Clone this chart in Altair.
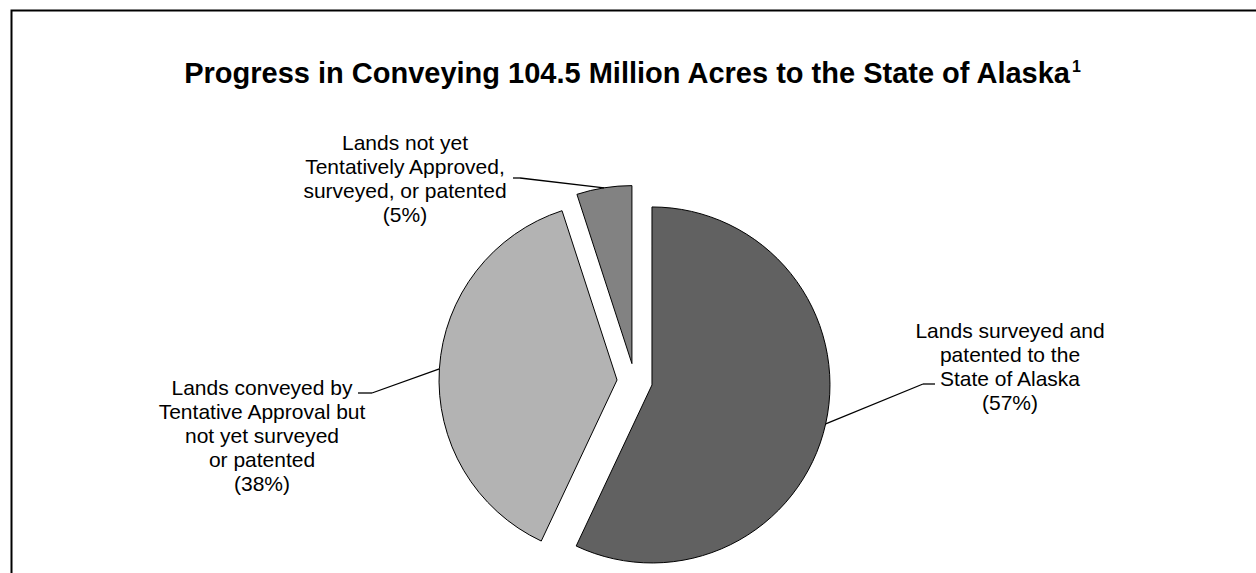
import altair as alt
import pandas as pd

# ---------------- data ----------------
categories = [
    "Lands surveyed and patented to the State of Alaska",
    "Lands conveyed by Tentative Approval but not yet surveyed or patented",
    "Lands not yet Tentatively Approved, surveyed, or patented",
]
percents = [57, 38, 5]
label_lines = [
    ["Lands surveyed and", "patented to the", "State of Alaska"],
    ["Lands conveyed by", "Tentative Approval but", "not yet surveyed", "or patented"],
    ["Lands not yet", "Tentatively Approved,", "surveyed, or patented"],
]
title_text = "Progress in Conveying 104.5 Million Acres to the State of Alaska"
footnote_mark = "1"

# ---------------- layout / style ----------------
colors = ["#616161", "#b3b3b3", "#828282"]
CX, CY = 634.7, 381.1      # pie centre (pixels)
R = 178                    # pie radius
E = 17.7                   # explosion distance
label_x = [1010, 262, 405]
label_y = [338, 395, 150]
elbow_x = [923, 372, 520]
elbow_y = [384, 393, 178]
end_x = [935, 358, 513]
end_y = [384, 393, 178]
# frame: one open polyline, left edge up then top edge across
frame_px = [11.5, 11.5, 1256]
frame_py = [573, 10.5, 10.5]

labels = ["\n".join(lines + [f"({p}%)"]) for lines, p in zip(label_lines, percents)]

df = pd.DataFrame({
    "category": categories,
    "value": percents,
    "order": list(range(len(categories))),
    "label": labels,
    "label_x": label_x,
    "label_y": label_y,
    "elbow_x": elbow_x,
    "elbow_y": elbow_y,
    "end_x": end_x,
    "end_y": end_y,
})

base = (
    alt.Chart(df)
    .transform_joinaggregate(total="sum(value)")
    .transform_window(cum="sum(value)", sort=[alt.SortField("order")])
    .transform_calculate(
        t0="(datum.cum - datum.value) / datum.total * 2 * PI",
        t1="datum.cum / datum.total * 2 * PI",
        mid="(datum.t0 + datum.t1) / 2",
        cx=f"{CX} + {E} * sin(datum.mid)",
        cy=f"{CY} - {E} * cos(datum.mid)",
        lx=f"datum.cx + {R} * sin(datum.mid)",
        ly=f"datum.cy - {R} * cos(datum.mid)",
    )
)

pie = base.mark_arc(outerRadius=R, stroke="black", strokeWidth=1).encode(
    theta=alt.Theta("t0:Q", scale=None, stack=False),
    theta2="t1:Q",
    x=alt.X("cx:Q", scale=None, axis=None),
    y=alt.Y("cy:Q", scale=None, axis=None),
    color=alt.Color("category:N", scale=alt.Scale(domain=categories, range=colors), legend=None),
)

leader1 = base.mark_rule(color="black", strokeWidth=1.3).encode(
    x=alt.X("lx:Q", scale=None, axis=None),
    y=alt.Y("ly:Q", scale=None, axis=None),
    x2="elbow_x:Q",
    y2="elbow_y:Q",
)
leader2 = base.mark_rule(color="black", strokeWidth=1.3).encode(
    x=alt.X("elbow_x:Q", scale=None, axis=None),
    y=alt.Y("elbow_y:Q", scale=None, axis=None),
    x2="end_x:Q",
    y2="end_y:Q",
)

text = base.mark_text(
    font="Liberation Sans", fontSize=21, lineBreak="\n", lineHeight=24,
    align="center", baseline="alphabetic", color="black",
).encode(
    x=alt.X("label_x:Q", scale=None, axis=None),
    y=alt.Y("label_y:Q", scale=None, axis=None),
    text="label:N",
)

tdf = pd.DataFrame({"t": [title_text], "s": [footnote_mark]})
title = alt.Chart(tdf).mark_text(
    font="Liberation Sans", fontSize=29, fontWeight="bold", align="right",
    baseline="alphabetic", color="black",
).encode(x=alt.value(1070), y=alt.value(83), text="t:N")
sup = alt.Chart(tdf).mark_text(
    font="Liberation Sans", fontSize=16, fontWeight="bold", align="left",
    baseline="alphabetic", color="black",
).encode(x=alt.value(1072), y=alt.value(72), text="s:N")

fdf = pd.DataFrame({"px": frame_px, "py": frame_py, "k": list(range(len(frame_px)))})
frame = alt.Chart(fdf).mark_line(color="black", strokeWidth=2).encode(
    x=alt.X("px:Q", scale=None, axis=None),
    y=alt.Y("py:Q", scale=None, axis=None),
    order=alt.Order("k:Q"),
)

chart = (
    alt.layer(frame, pie, leader1, leader2, text, title, sup)
    .properties(width=1256, height=573, padding=0, autosize="none", background="white")
    .configure_view(strokeWidth=0, strokeOpacity=0)
)

chart.save("out.html", embed_options={"renderer": "svg", "actions": False})
